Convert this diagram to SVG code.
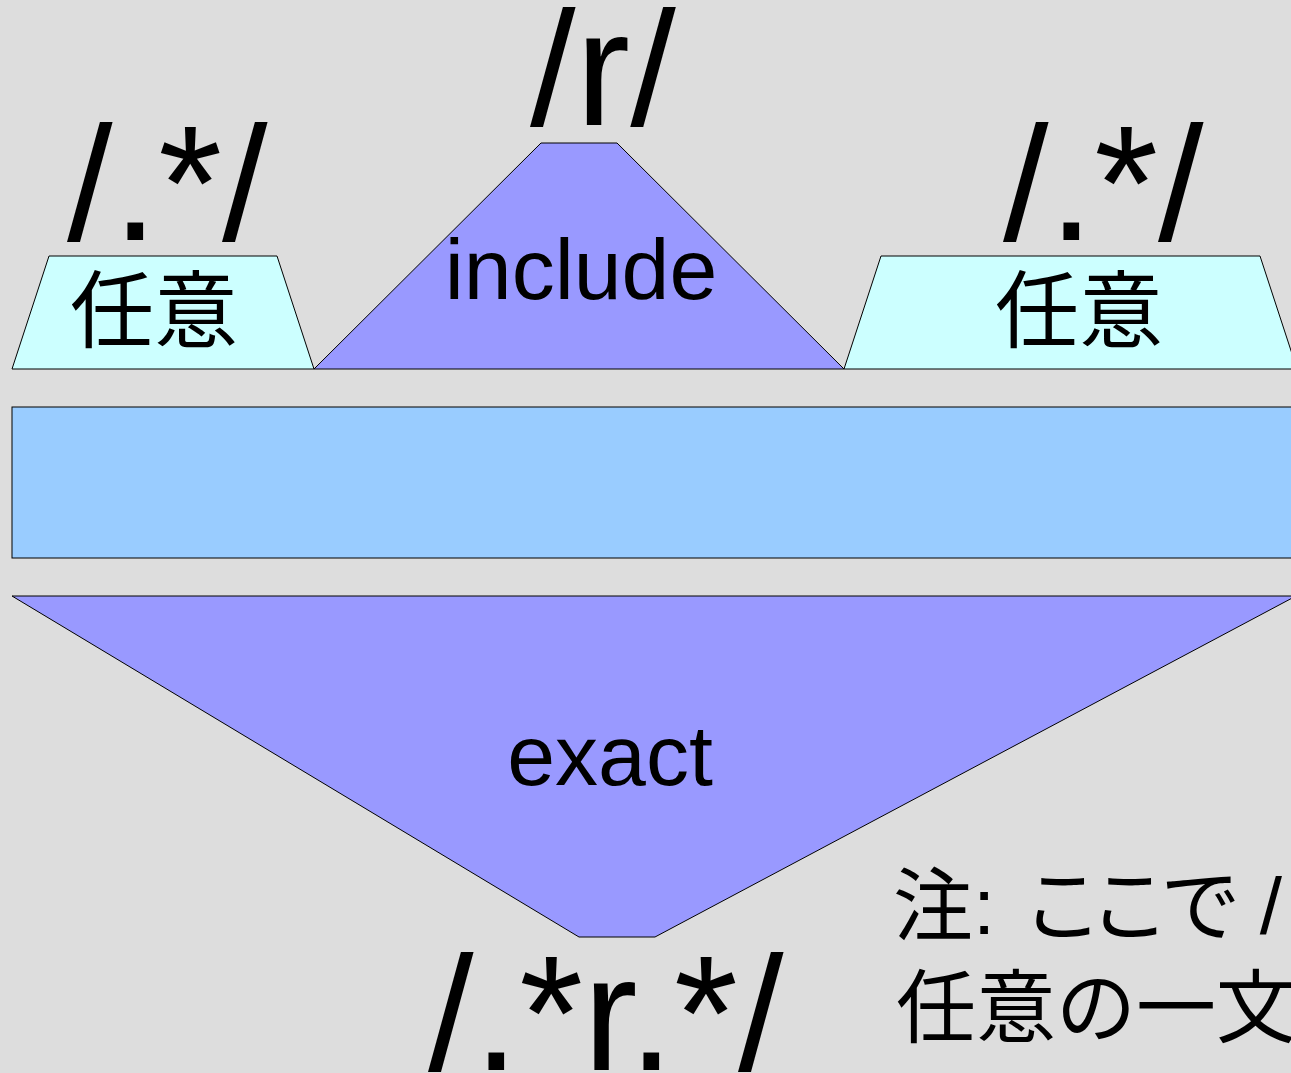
<svg xmlns="http://www.w3.org/2000/svg" width="1291" height="1073" viewBox="0 0 1291 1073">
<style>
.shape{stroke:#000;stroke-width:1}
.cyan{fill:#ccffff}
.purple{fill:#9999ff}
.blue{fill:#99ccff}
.big{font-family:"Liberation Sans",Arial,sans-serif;font-size:164px;fill:#000}
.lbl{font-family:"Liberation Sans",Arial,sans-serif;font-size:86px;fill:#000;text-anchor:middle}
.jp{font-family:"Liberation Sans","Noto Sans CJK JP",sans-serif;font-size:84px;fill:#000}
.note{font-family:"Liberation Sans","Noto Sans CJK JP",sans-serif;font-size:80px;fill:#000}
</style>
<rect x="0" y="0" width="1291" height="1073" fill="#dddddd"/>
<g id="left-any">
<polygon class="shape cyan" points="49,256 277,256 314,369 12,369"/>
<text class="jp" x="154" y="341" text-anchor="middle">任意</text>
<text class="big" x="67" y="240">/.*/</text>
</g>
<g id="include">
<polygon class="shape purple" points="541,143 617,143 844,369 314,369"/>
<text class="lbl" x="581" y="299">include</text>
<text class="big" x="530" y="125">/r/</text>
</g>
<g id="right-any">
<polygon class="shape cyan" points="881,256 1260,256 1297,369 844,369"/>
<text class="jp" x="1079" y="341" text-anchor="middle">任意</text>
<text class="big" x="1003" y="240">/.*/</text>
</g>
<g id="band">
<rect class="shape blue" x="12" y="407" width="1290" height="151"/>
</g>
<g id="exact">
<polygon class="shape purple" points="12,596 1296,596 655,937 579,937"/>
<text class="lbl" x="610" y="785">exact</text>
<text class="big" x="428" y="1070">/.*r.*/</text>
</g>
<g id="note">
<text class="note" x="893" y="934" dx="0 0 0 5 -13 -9 0 -3">注: ここで /</text>
<text class="note" x="896" y="1036">任意の一文</text>
</g>
<g id="connectors"></g>
</svg>
